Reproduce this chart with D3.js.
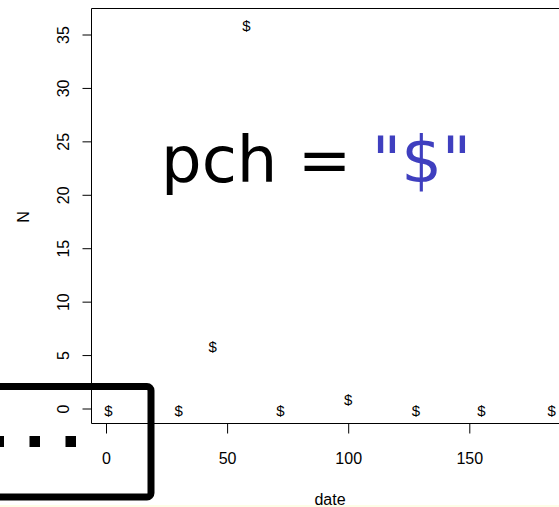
<!DOCTYPE html>
<html>
<head>
<meta charset="utf-8">
<script src="https://cdn.jsdelivr.net/npm/d3@7"></script>
<style>
  body { margin: 0; background: #fff; }
  svg { display: block; }
  .tick text { font-family: "Liberation Sans", Arial, sans-serif; font-size: 16px; fill: #000; }
</style>
</head>
<body>
<script>
'use strict';

// values
let dates = [1, 30, 44, 58, 72, 100, 128, 155, 184];
let counts = [0, 0, 6, 36, 0, 1, 0, 0, 0];
let xTicks = [0, 50, 100, 150];
let yTicks = [0, 5, 10, 15, 20, 25, 30, 35];
let symbol = "$";

let width = 559;
let height = 507;

let svg = d3.select('body').append('svg')
  .attr('width', width)
  .attr('height', height);

// faint yellow strip at the bottom edge
svg.append('rect')
  .attr('x', 0).attr('y', 505)
  .attr('width', width).attr('height', 2)
  .attr('fill', '#fdfde6');

let xScale = d3.scaleLinear().domain([0, 150]).range([106, 469.3]);
let yScale = d3.scaleLinear().domain([0, 35]).range([408.5, 34.5]);

// plot frame (right side runs off the page)
svg.append('path')
  .attr('d', 'M' + (width + 5) + ',8.5H91.5V423.5H' + (width + 5))
  .attr('fill', 'none')
  .attr('stroke', '#000')
  .attr('stroke-width', 1);

// x axis
let xAxis = d3.axisBottom(xScale)
  .tickValues(xTicks)
  .tickSize(10)
  .tickPadding(19)
  .tickSizeOuter(0);

svg.append('g')
  .attr('transform', 'translate(0,423.5)')
  .call(xAxis)
  .call(g => g.select('.domain').remove());

// y axis, labels turned like R's default
let yAxis = d3.axisLeft(yScale)
  .tickValues(yTicks)
  .tickSize(9)
  .tickSizeOuter(0);

let yg = svg.append('g')
  .attr('transform', 'translate(91.5,0)')
  .call(yAxis)
  .call(g => g.select('.domain').remove());

yg.selectAll('.tick text')
  .attr('x', 0).attr('dy', null)
  .attr('text-anchor', 'middle')
  .attr('transform', 'translate(-28,0) rotate(-90)')
  .attr('dominant-baseline', 'central');

// axis titles
svg.append('text')
  .attr('x', 330).attr('y', 505)
  .attr('text-anchor', 'middle')
  .style('font-family', '"Liberation Sans", Arial, sans-serif')
  .style('font-size', '16px')
  .text('date');

svg.append('text')
  .attr('transform', 'translate(23,217) rotate(-90)')
  .attr('text-anchor', 'middle')
  .attr('dominant-baseline', 'central')
  .style('font-family', '"Liberation Sans", Arial, sans-serif')
  .style('font-size', '16px')
  .text('N');

// points drawn with the "$" character
svg.selectAll('text.pt')
  .data(dates)
  .enter()
  .append('text')
    .attr('class', 'pt')
    .attr('x', (d) => xScale(d))
    .attr('y', (d, i) => yScale(counts[i]))
    .attr('dy', '0.5em')
    .attr('text-anchor', 'middle')
    .style('font-family', '"Liberation Sans", Arial, sans-serif')
    .style('font-size', '15px')
    .text(symbol);

// big label
let title = svg.append('text')
  .attr('x', 161).attr('y', 182)
  .style('font-family', '"DejaVu Sans", sans-serif')
  .style('font-size', '64px');
title.append('tspan').attr('fill', '#000').text('pch = ');
title.append('tspan').attr('fill', '#3f3fbf').text('"' + symbol + '"');

// dotted marker line and highlight box at the bottom-left
svg.append('line')
  .attr('x1', -6.5).attr('x2', 80)
  .attr('y1', 441.5).attr('y2', 441.5)
  .attr('stroke', '#000')
  .attr('stroke-width', 11)
  .attr('stroke-dasharray', '10.5 25.5');

svg.append('rect')
  .attr('x', -20).attr('y', 386.5)
  .attr('width', 171).attr('height', 110.5)
  .attr('rx', 4)
  .attr('fill', 'none')
  .attr('stroke', '#000')
  .attr('stroke-width', 7);
</script>
</body>
</html>
